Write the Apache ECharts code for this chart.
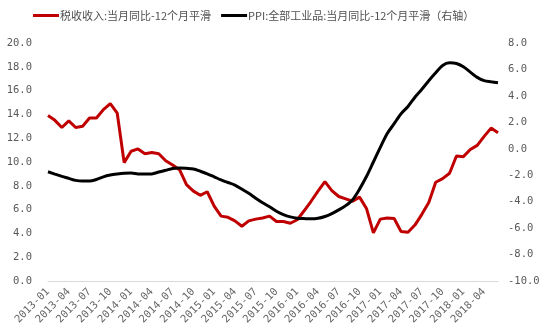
<!DOCTYPE html>
<html>
<head>
<meta charset="utf-8">
<style>
  html, body { margin: 0; padding: 0; background: #ffffff; }
  #chart { width: 556px; height: 335px; }
</style>
<script src="https://cdn.jsdelivr.net/npm/echarts@6/dist/echarts.min.js"></script>
</head>
<body>
<div id="chart"></div>
<script>
// Monthly categories, 2013-01 through 2018-06
const months = [];
for (let y = 2013; y <= 2018; y++) {
  for (let m = 1; m <= 12; m++) {
    if (y === 2018 && m > 6) break;
    months.push(y + '-' + (m < 10 ? '0' + m : m));
  }
}

// 税收收入: 当月同比, 12个月平滑 (%)
const taxYoY = [
  13.9, 13.5, 12.9, 13.45, 12.9, 13.0, 13.7, 13.7, 14.4, 14.9,
  14.1, 9.95, 10.9, 11.1, 10.7, 10.8, 10.7, 10.1, 9.75, 9.35,
  8.1, 7.55, 7.2, 7.5, 6.3, 5.45, 5.35, 5.05, 4.6, 5.05,
  5.2, 5.3, 5.45, 5.0, 5.0, 4.85, 5.15, 5.9, 6.7, 7.55,
  8.35, 7.6, 7.1, 6.9, 6.7, 7.05, 6.1, 4.05, 5.2, 5.3,
  5.25, 4.15, 4.1, 4.7, 5.6, 6.6, 8.3, 8.6, 9.05, 10.5,
  10.45, 11.05, 11.4, 12.15, 12.85, 12.45
];

// PPI 全部工业品: 当月同比, 12个月平滑 (%), right axis
const ppiYoY = [
  -1.74, -1.92, -2.09, -2.24, -2.39, -2.44, -2.44, -2.32, -2.12, -1.99,
  -1.91, -1.85, -1.83, -1.9, -1.91, -1.9, -1.76, -1.63, -1.49, -1.45,
  -1.48, -1.53, -1.7, -1.89, -2.12, -2.36, -2.55, -2.75, -3.05, -3.37,
  -3.74, -4.08, -4.38, -4.72, -4.98, -5.15, -5.25, -5.28, -5.3, -5.26,
  -5.12, -4.9, -4.62, -4.3, -3.85, -3.05, -2.1, -1.0, 0.1, 1.15,
  1.9, 2.65, 3.2, 3.9, 4.5, 5.15, 5.75, 6.3, 6.5, 6.45,
  6.2, 5.8, 5.4, 5.15, 5.07, 5.0
];

const seriesNames = ['税收收入:当月同比-12个月平滑', 'PPI:全部工业品:当月同比-12个月平滑（右轴）'];

const labelFont = 'DejaVu Sans Mono';
const chart = echarts.init(document.getElementById('chart'), null, { renderer: 'canvas' });

chart.setOption({
  animation: false,
  backgroundColor: '#ffffff',
  legend: {
    top: 10,
    left: 33,
    padding: 0,
    icon: 'rect',
    itemWidth: 26,
    itemHeight: 3,
    itemGap: 10,
    textStyle: { fontFamily: 'Noto Sans CJK SC', fontSize: 11, color: '#505050', padding: [0, 0, 0, -4] },
    data: seriesNames
  },
  grid: { left: 48, right: 58, top: 43, bottom: 54 },
  xAxis: {
    type: 'category',
    data: months,
    boundaryGap: false,
    axisLine: { lineStyle: { color: '#d9d9d9', width: 1 } },
    axisTick: { show: false },
    axisLabel: {
      interval: 2,
      rotate: 45,
      margin: 9,
      fontFamily: labelFont,
      fontSize: 10.5,
      color: '#666666'
    },
    splitLine: { show: false }
  },
  yAxis: [
    {
      type: 'value',
      min: 0,
      max: 20,
      interval: 2,
      axisLine: { show: false },
      axisTick: { show: false },
      splitLine: { show: false },
      axisLabel: {
        margin: 16,
        fontFamily: labelFont,
        fontSize: 10.5,
        color: '#595959',
        formatter: v => v.toFixed(1)
      }
    },
    {
      type: 'value',
      min: -10,
      max: 8,
      interval: 2,
      position: 'right',
      axisLine: { show: false },
      axisTick: { show: false },
      splitLine: { show: false },
      axisLabel: {
        margin: 10,
        fontFamily: labelFont,
        fontSize: 10.5,
        color: '#595959',
        formatter: v => v.toFixed(1)
      }
    }
  ],
  series: [
    {
      name: seriesNames[0],
      type: 'line',
      yAxisIndex: 0,
      data: taxYoY,
      symbol: 'none',
      lineStyle: { color: '#c00000', width: 3 },
      itemStyle: { color: '#c00000' }
    },
    {
      name: seriesNames[1],
      type: 'line',
      yAxisIndex: 1,
      data: ppiYoY,
      symbol: 'none',
      smooth: 0.3,
      lineStyle: { color: '#000000', width: 3 },
      itemStyle: { color: '#000000' }
    }
  ]
});
</script>
</body>
</html>
